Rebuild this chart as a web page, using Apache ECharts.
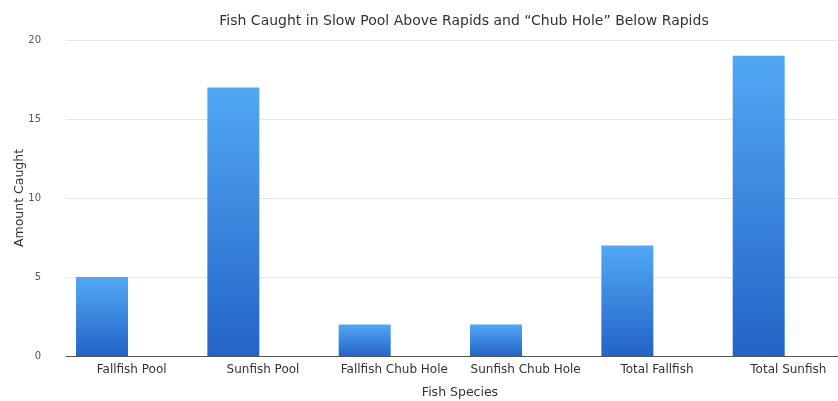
<!DOCTYPE html>
<html><head><meta charset="utf-8">
<script src="https://cdn.jsdelivr.net/npm/echarts@6/dist/echarts.min.js"></script>
<style>html,body{margin:0;padding:0;background:#fff;overflow:hidden}#c{width:856px;height:401px}</style>
</head><body><div id="c"></div>
<script>
const categories = ["Fallfish Pool","Sunfish Pool","Fallfish Chub Hole","Sunfish Chub Hole","Total Fallfish","Total Sunfish"];
const amountCaught = [5,17,2,2,7,19];
const emptySeries = [null,null,null,null,null,null];
const yTicks = {min:0,max:20,interval:5};

const chart = echarts.init(document.getElementById('c'));
const grad = new echarts.graphic.LinearGradient(0,0,0,1,[{offset:0,color:'#52a8f5'},{offset:1,color:'#2364c6'}]);
chart.setOption({
  animation:false,
  textStyle:{fontFamily:'DejaVu Sans, sans-serif'},
  title:{text:'Fish Caught in Slow Pool Above Rapids and \u201cChub Hole\u201d Below Rapids',left:459,textAlign:'center',top:9,
    textStyle:{fontSize:14,fontWeight:'normal',color:'#333'}},
  grid:{left:66,top:40,width:788,bottom:45,containLabel:false,outerBoundsMode:'none'},
  xAxis:{type:'category',data:categories,name:'Fish Species',nameLocation:'middle',nameGap:30,nameMoveOverlap:false,
    nameTextStyle:{fontSize:12.5,color:'#333'},
    axisLine:{lineStyle:{color:'#555',width:1}},axisTick:{show:false},
    axisLabel:{fontSize:12,color:'#333',margin:8,interval:0,hideOverlap:false}},
  yAxis:{type:'value',min:yTicks.min,max:yTicks.max,interval:yTicks.interval,name:'Amount Caught',nameLocation:'middle',nameGap:40,nameMoveOverlap:false,
    nameTextStyle:{fontSize:12.5,color:'#333'},
    axisLine:{show:false},axisTick:{show:false},
    axisLabel:{fontSize:10,color:'#555',margin:25},
    splitLine:{lineStyle:{color:'#e6e6e6'}}},
  series:[
    {type:'bar',data:amountCaught,barWidth:52,barGap:'14%',itemStyle:{color:grad}},
    {type:'bar',data:emptySeries,barWidth:52}
  ]
});
</script></body></html>
